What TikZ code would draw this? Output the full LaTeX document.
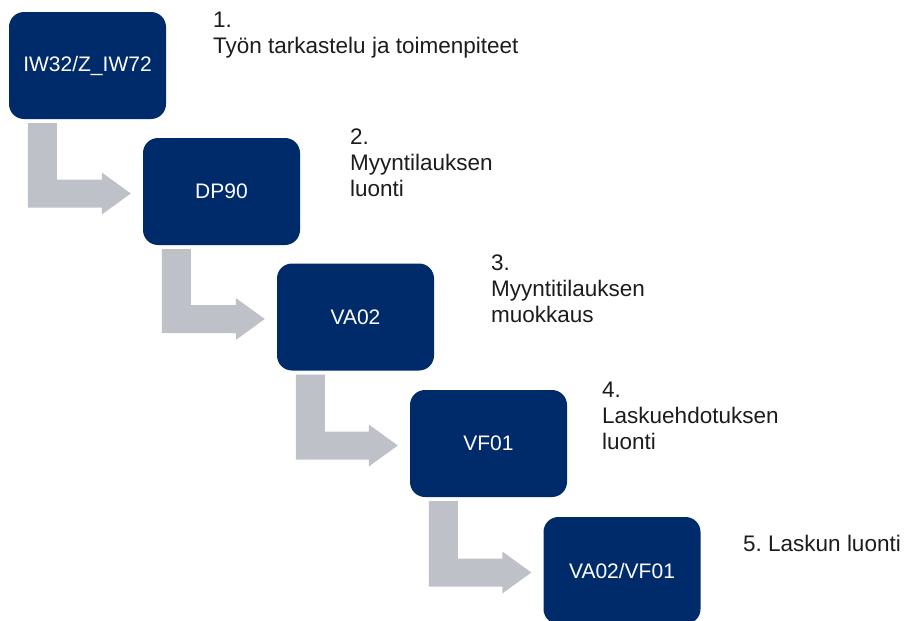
\documentclass[tikz,border=0pt]{standalone}
\usepackage{fontspec}
\setmainfont{Liberation Sans}
\usepackage{tikz}
\usetikzlibrary{positioning, calc}
\usepackage{xcolor}
\definecolor{navy}{RGB}{0,43,106}
\definecolor{arrowgray}{RGB}{191,193,201}
\definecolor{labeltext}{RGB}{28,28,28}

\tikzset{
  stepbox/.style={fill=navy, rounded corners=15pt, minimum width=157pt, minimum height=107pt,
    inner sep=0pt, text=white, font=\fontsize{21}{25}\selectfont},
  steplabel/.style={anchor=north west, inner sep=0pt, align=left, text=labeltext,
    font=\fontsize{22.5}{26}\selectfont},
  flowarrow/.style={fill=arrowgray}
}
\newcommand{\bentarrow}[2]{%
  \fill[flowarrow] ($(#1.south west)+(19,4)$) -- ($(#1.south west)+(48,4)$)
    |- ($(#2.west)+(-41,-12)$) -- ($(#2.west)+(-41,-19)$) -- ($(#2.west)+(-12,2)$)
    -- ($(#2.west)+(-41,23)$) -- ($(#2.west)+(-41,16)$)
    -| ($(#1.south west)+(19,4)$) -- cycle;}

\begin{document}
\begin{tikzpicture}[x=1pt, y=-1pt]
\useasboundingbox (0,0) rectangle (905,621);

% boxes
\node[stepbox] (iw) at (87.5, 65.5) {IW32/Z\_IW72};
\node[stepbox] (dp) at (221.5, 191.5) {DP90};
\node[stepbox] (vaa) at (355.5, 317) {VA02};
\node[stepbox] (vf) at (488.5, 443.5) {VF01};
\node[stepbox] (vavf) at (622, 570.5) {VA02/VF01};

% arrows
\bentarrow{iw}{dp}
\bentarrow{dp}{vaa}
\bentarrow{vaa}{vf}
\bentarrow{vf}{vavf}

% labels
\node[steplabel] (l1) at (213, 12) {1.\\Työn tarkastelu ja toimenpiteet};
\node[steplabel] (l2) at (350, 129) {2.\\Myyntilauksen\\luonti};
\node[steplabel] (l3) at (491, 255) {3.\\Myyntitilauksen\\muokkaus};
\node[steplabel] (l4) at (602, 382) {4.\\Laskuehdotuksen\\luonti};
\node[steplabel] (l5) at (743, 535) {5.\ Laskun luonti};
\end{tikzpicture}
\end{document}
